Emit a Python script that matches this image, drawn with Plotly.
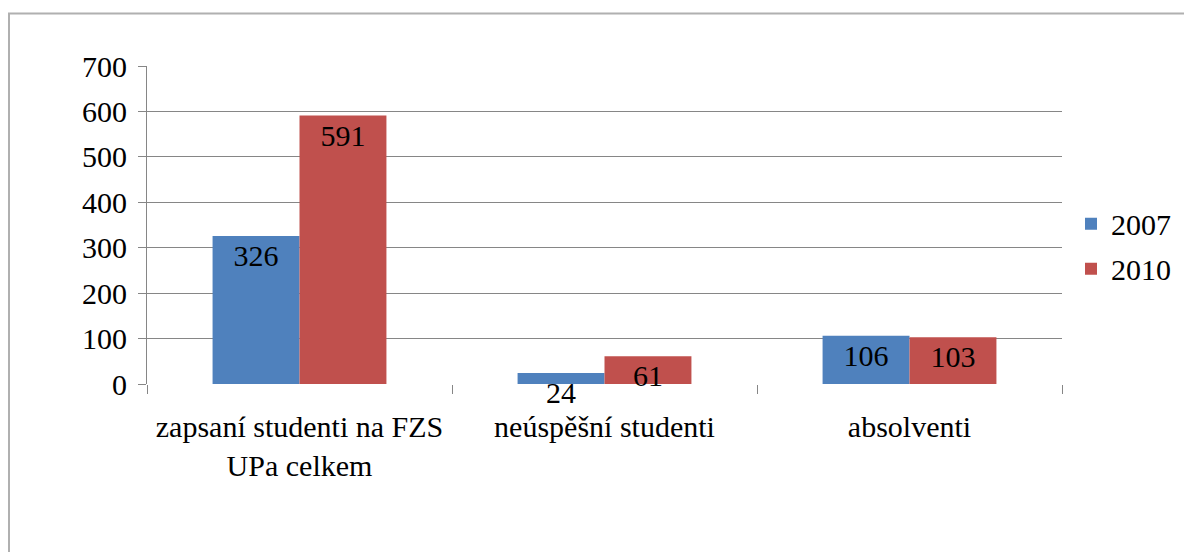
import plotly.graph_objects as go

categories = ["zapsaní studenti na FZS<br>UPa celkem", "neúspěšní studenti", "absolventi"]
series_names = ["2007", "2010"]
values_2007 = [326, 24, 106]
values_2010 = [591, 61, 103]
y_ticks = [0, 100, 200, 300, 400, 500, 600, 700]

colors = ["#4F81BD", "#C0504D"]
FONT = "Liberation Serif"
FS = 30

fig = go.Figure()
for i, (name, vals, col) in enumerate(zip(series_names, [values_2007, values_2010], colors)):
    fig.add_trace(go.Bar(
        x=categories, y=vals, name=name, legendgroup=f"g{i}",
        marker=dict(color=col, line=dict(width=0)),
        text=[str(v) for v in vals], textposition="inside", insidetextanchor="end",
        textangle=0,
        textfont=dict(family=FONT, size=FS, color="black"),
        constraintext="none", cliponaxis=False,
    ))

# page has an 8px body margin; compensate
OFF = 8
W, H = 1192, 552
L = 147 - OFF
T = 65.5 - OFF
R = W - (1062 - OFF)
B = H - (384 - OFF)
pw, ph = W - L - R, H - T - B

def px(xs):
    return (xs - OFF - L) / pw

def py(ys):
    return (H - B - (ys - OFF)) / ph

fig.update_layout(
    width=W, height=H,
    margin=dict(l=L, r=R, t=T, b=B, pad=0),
    paper_bgcolor="white", plot_bgcolor="white",
    barmode="group", bargap=0.43, bargroupgap=0,
    font=dict(family=FONT, size=FS, color="black"),
    uniformtext=dict(mode="show", minsize=FS),
    showlegend=True,
    legend=dict(x=px(1085 - 14), y=py(246), xanchor="left", yanchor="middle",
                font=dict(family=FONT, size=FS), bgcolor="rgba(0,0,0,0)",
                tracegroupgap=3, traceorder="grouped"),
    xaxis=dict(showline=False, ticks="outside", tickson="boundaries", ticklen=9,
               tickcolor="#868686", showgrid=False, tickfont=dict(family=FONT, size=FS),
               ticklabelstandoff=22),
    yaxis=dict(range=[0, 700], tickvals=y_ticks, ticks="outside", ticklen=8, tickcolor="#868686",
               showgrid=True, gridcolor="#868686", gridwidth=1, showline=True, linecolor="#868686",
               linewidth=1, zeroline=False, tickfont=dict(family=FONT, size=FS),
               ticklabelstandoff=5),
    shapes=[dict(type="rect", xref="paper", yref="paper",
                 x0=px(9), x1=px(1215),
                 y0=py(575), y1=py(13),
                 line=dict(color="#B0B0B0", width=2), layer="below")],
)

fig.write_html("out.html")
